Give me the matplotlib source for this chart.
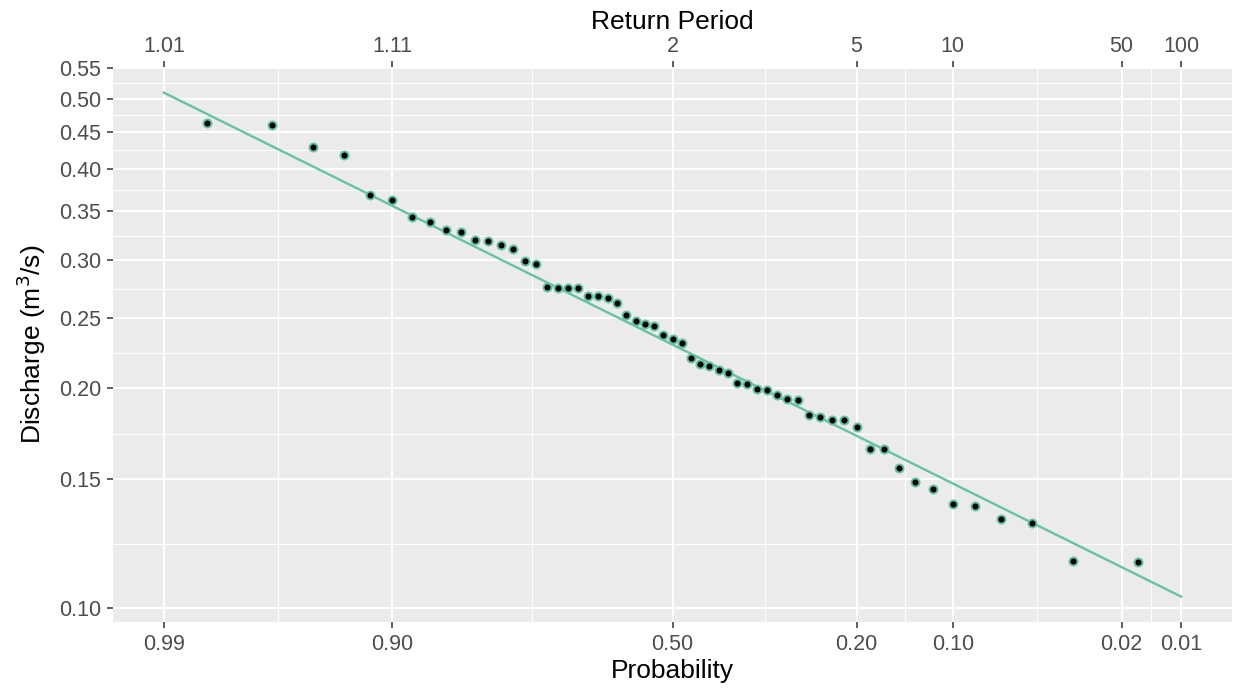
import numpy as np
import matplotlib.pyplot as plt
from matplotlib.ticker import FixedLocator, NullFormatter
from statistics import NormalDist

plt.rcParams['font.family'] = ['Liberation Sans', 'DejaVu Sans']

# observed discharge (m3/s), sorted ascending (rank 1 = smallest exceedance prob)
discharge = [0.1154, 0.1160, 0.1307, 0.1326, 0.1379, 0.1389, 0.1456, 0.1487, 0.1556, 0.1650,
             0.1651, 0.1768, 0.1809, 0.1813, 0.1830, 0.1842, 0.1929, 0.1937, 0.1962, 0.1989,
             0.1995, 0.2029, 0.2038, 0.2097, 0.2123, 0.2144, 0.2161, 0.2201, 0.2310, 0.2337,
             0.2367, 0.2433, 0.2453, 0.2479, 0.2523, 0.2621, 0.2662, 0.2677, 0.2675, 0.2748,
             0.2751, 0.2751, 0.2757, 0.2968, 0.2993, 0.3108, 0.3145, 0.3192, 0.3198, 0.3277,
             0.3298, 0.3382, 0.3439, 0.3628, 0.3683, 0.4182, 0.4289, 0.4598, 0.4633]

# fitted log-normal line (end points)
fit_prob = [0.99, 0.01]
fit_q = [0.5094, 0.1036]

prob_ticks = [0.99, 0.90, 0.50, 0.20, 0.10, 0.02, 0.01]
prob_labels = ['0.99', '0.90', '0.50', '0.20', '0.10', '0.02', '0.01']
rp_labels = ['1.01', '1.11', '2', '5', '10', '50', '100']
y_ticks = [0.10, 0.15, 0.20, 0.25, 0.30, 0.35, 0.40, 0.45, 0.50, 0.55]
y_labels = ['0.10', '0.15', '0.20', '0.25', '0.30', '0.35', '0.40', '0.45', '0.50', '0.55']

teal = '#66C2A5'


def to_z(p):
    # normal probability paper, exceedance decreasing to the right
    return np.array([NormalDist().inv_cdf(1 - v) for v in np.atleast_1d(p)])


# Weibull plotting position
rank = np.arange(1, len(discharge) + 1)
exceed_prob = rank / (len(discharge) + 1)

fig = plt.figure(figsize=(12.35, 6.94), dpi=100)
ax = fig.add_axes([113 / 1235, 1 - 621.7 / 694, (1232 - 113) / 1235, (621.7 - 67.5) / 694])
ax.set_facecolor('#EBEBEB')

ax.plot(to_z(fit_prob), fit_q, color=teal, lw=1.7, zorder=2)
ax.plot(to_z(exceed_prob), discharge, ls='none', marker='o', ms=5.8,
        mfc='black', mec=teal, mew=1.4, zorder=3)

ax.set_yscale('log')
ax.set_ylim(0.0957, 0.5515)
ax.set_xlim(-2.559, 2.559)

xt = to_z(prob_ticks)
ax.set_xticks(xt)
ax.set_xticklabels(prob_labels)
ax.xaxis.set_minor_locator(FixedLocator((xt[:-1] + xt[1:]) / 2))
ax.set_yticks(y_ticks)
ax.set_yticklabels(y_labels)
yt = np.array(y_ticks)
ax.yaxis.set_minor_locator(FixedLocator(np.sqrt(yt[:-1] * yt[1:])))
ax.yaxis.set_minor_formatter(NullFormatter())

ax.grid(which='major', color='white', lw=1.4)
ax.grid(which='minor', color='white', lw=0.7)
ax.set_axisbelow(True)
for s in ax.spines.values():
    s.set_visible(False)
ax.tick_params(which='major', length=4.5, width=1.1, color='#333333',
               labelsize=15.5, labelcolor='#4D4D4D', pad=4)
ax.tick_params(which='minor', length=0)

sec = ax.secondary_xaxis('top')
sec.set_xticks(xt)
sec.set_xticklabels(rp_labels)
sec.tick_params(length=4.5, width=1.1, color='#333333',
                labelsize=15.5, labelcolor='#4D4D4D', pad=3)
sec.spines['top'].set_visible(False)
sec.set_xlabel('Return Period', fontsize=19, labelpad=5)

ax.set_xlabel('Probability', fontsize=19, labelpad=3)
ax.set_ylabel('Discharge (m$^3$/s)', fontsize=19, labelpad=8)

fig.savefig('out.png', dpi=100)
